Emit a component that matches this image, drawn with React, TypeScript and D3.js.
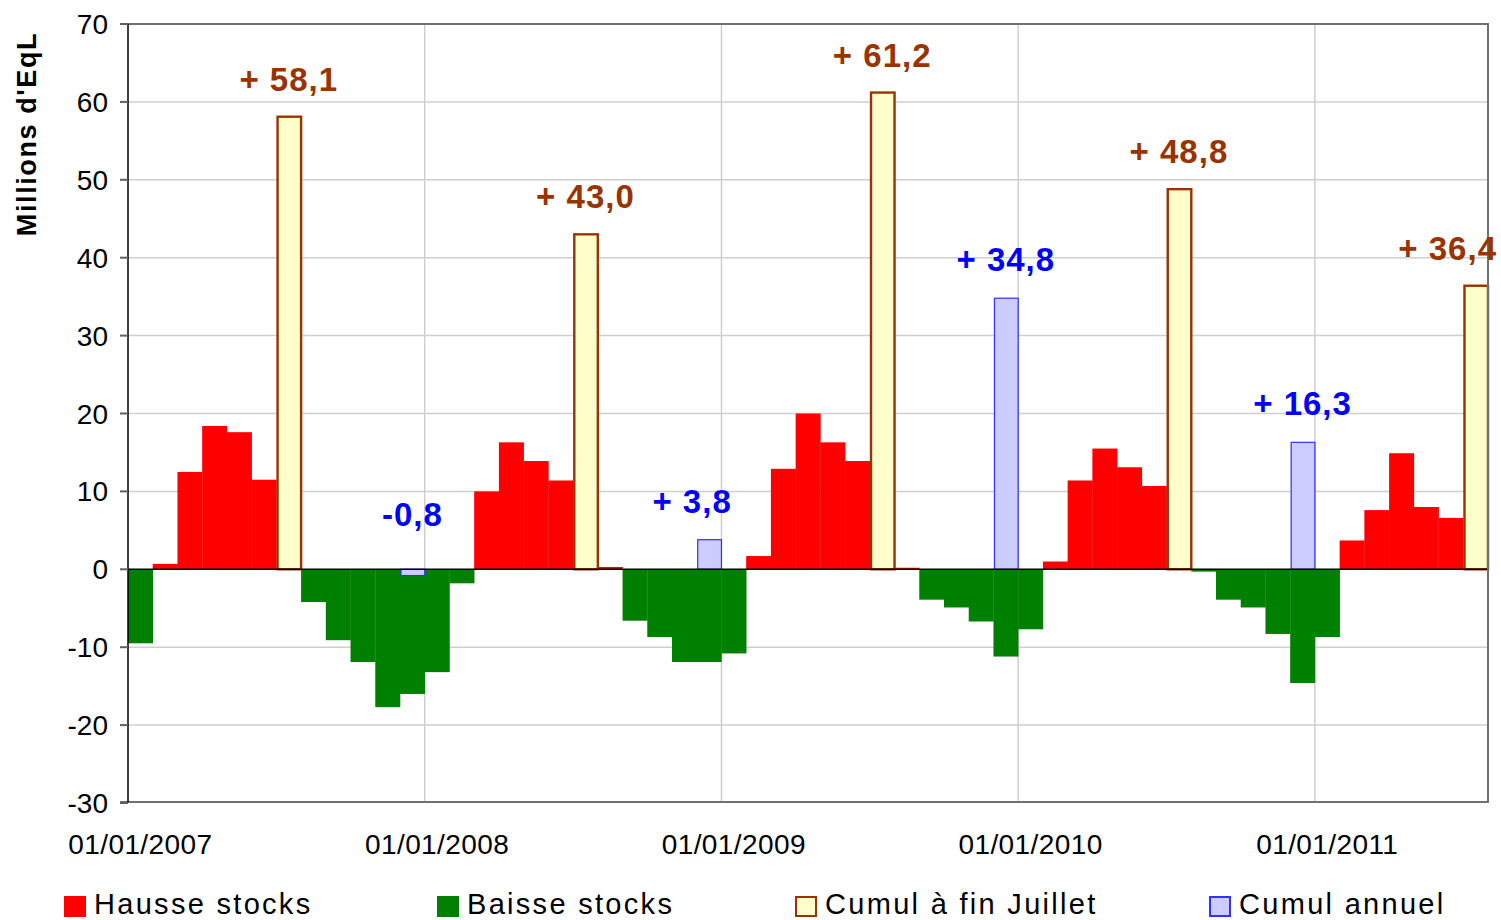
import React from "react";
import * as d3 from "d3";

// Monthly stock variations, Jan 2007 .. Jul 2011 (July hidden behind the cumulative bar)
const months: string[] = d3.range(55).map((i) => {
  const y = 2007 + Math.floor(i / 12);
  const m = (i % 12) + 1;
  return `01/${String(m).padStart(2, "0")}/${y}`;
});

const monthlyValues: (number | null)[] = [
  -9.5, 0.7, 12.5, 18.4, 17.6, 11.5, null, -4.2, -9.1, -11.9, -17.7, -16.0,
  -13.2, -1.8, 10.0, 16.3, 13.9, 11.4, null, 0.3, -6.6, -8.7, -11.9, -11.9,
  -10.8, 1.7, 12.9, 20.0, 16.3, 13.9, null, 0.2, -3.9, -4.9, -6.7, -11.2,
  -7.7, 1.0, 11.4, 15.5, 13.1, 10.7, null, -0.3, -3.9, -4.9, -8.3, -14.6,
  -8.7, 3.7, 7.6, 14.9, 8.0, 6.6, null,
];

const cumulJuilletMonths: string[] = ["01/07/2007", "01/07/2008", "01/07/2009", "01/07/2010", "01/07/2011"];
const cumulJuilletValues: number[] = [58.1, 43.0, 61.2, 48.8, 36.4];

const cumulAnnuelMonths: string[] = ["01/12/2007", "01/12/2008", "01/12/2009", "01/12/2010"];
const cumulAnnuelValues: number[] = [-0.8, 3.8, 34.8, 16.3];

const yTicks: number[] = [70, 60, 50, 40, 30, 20, 10, 0, -10, -20, -30];
const xTickLabels: string[] = ["01/01/2007", "01/01/2008", "01/01/2009", "01/01/2010", "01/01/2011"];

const legendItems = [
  { label: "Hausse stocks", fill: "#FF0000", stroke: "none" },
  { label: "Baisse stocks", fill: "#008000", stroke: "none" },
  { label: "Cumul à fin Juillet", fill: "#FFFFCC", stroke: "#993300" },
  { label: "Cumul annuel", fill: "#CCCCFF", stroke: "#3333FF" },
];

const W = 1501;
const H = 920;
const FONT = "'Liberation Sans', Arial, Helvetica, sans-serif";

function fmt(v: number): string {
  const s = Math.abs(v).toFixed(1).replace(".", ",");
  return v >= 0 ? `+ ${s}` : `-${s}`;
}

export default function App() {
  const left = 128;
  const right = 1488;
  const top = 24;
  const bottom = 802;

  const x = d3.scaleBand<string>().domain(months).range([left, right]).padding(0);
  const y = d3.scaleLinear().domain([-30, 70]).range([bottom + 1, top]);
  const bw = x.bandwidth();

  const legendX = [64, 437, 795, 1209];

  return (
    <svg
      width={W}
      height={H}
      style={{ position: "absolute", left: 0, top: 0, background: "#fff" }}
      fontFamily={FONT}
    >
      {/* horizontal gridlines */}
      {yTicks
        .filter((t) => t !== 70 && t !== -30 && t !== 0)
        .map((t) => (
          <line key={"g" + t} x1={left} x2={right} y1={y(t)} y2={y(t)} stroke="#cfcfcf" strokeWidth={1.5} />
        ))}
      {/* vertical gridlines at each year */}
      {xTickLabels.slice(1).map((lab) => (
        <line key={"v" + lab} x1={x(lab)!} x2={x(lab)!} y1={top} y2={bottom} stroke="#cfcfcf" strokeWidth={1.5} />
      ))}

      {/* monthly bars */}
      {months.map((m, i) => {
        const v = monthlyValues[i];
        if (v === null) return null;
        const y0 = y(Math.max(0, v));
        const y1 = y(Math.min(0, v));
        return (
          <rect
            key={"m" + m}
            x={x(m)!}
            y={y0}
            width={bw + 0.3}
            height={y1 - y0}
            fill={v >= 0 ? "#FF0000" : "#008000"}
          />
        );
      })}

      {/* cumul annuel bars */}
      {cumulAnnuelMonths.map((m, i) => {
        const v = cumulAnnuelValues[i];
        const y0 = y(Math.max(0, v));
        const y1 = y(Math.min(0, v));
        return (
          <rect
            key={"a" + m}
            x={x(m)! + 1}
            y={y0}
            width={bw - 1}
            height={y1 - y0}
            fill="#CCCCFF"
            stroke="#2f2fff"
            strokeWidth={1.2}
          />
        );
      })}

      {/* cumul juillet bars */}
      {cumulJuilletMonths.map((m, i) => {
        const v = cumulJuilletValues[i];
        const y0 = y(Math.max(0, v));
        const y1 = y(Math.min(0, v));
        return (
          <rect
            key={"j" + m}
            x={x(m)! + 1.2}
            y={y0}
            width={bw - 1.2}
            height={y1 - y0}
            fill="#FFFFCC"
            stroke="#993300"
            strokeWidth={2.4}
          />
        );
      })}

      {/* zero line */}
      <line x1={left} x2={right} y1={y(0)} y2={y(0)} stroke="#000" strokeWidth={1.5} />

      {/* plot border */}
      <line x1={120} x2={right + 1} y1={top} y2={top} stroke="#707070" strokeWidth={2} />
      <line x1={right} x2={right} y1={top} y2={bottom} stroke="#707070" strokeWidth={2} />
      <line x1={120} x2={right + 1} y1={bottom} y2={bottom} stroke="#707070" strokeWidth={2} />
      <line x1={left} x2={left} y1={top} y2={bottom} stroke="#000" strokeWidth={1.5} />

      {/* y ticks and labels */}
      {yTicks.map((t) => (
        <g key={"t" + t}>
          <line x1={120} x2={left} y1={y(t)} y2={y(t)} stroke="#606060" strokeWidth={2} />
          <text x={108} y={y(t)} dy="0.36em" textAnchor="end" fontSize={28} fill="#000">
            {t}
          </text>
        </g>
      ))}

      {/* x labels */}
      {xTickLabels.map((lab) => (
        <text
          key={"x" + lab}
          x={x(lab)! + bw / 2}
          y={854}
          textAnchor="middle"
          fontSize={28}
          letterSpacing={0.4}
          fill="#000"
        >
          {lab}
        </text>
      ))}

      {/* y axis title */}
      <text
        transform={`translate(36,134) rotate(-90)`}
        textAnchor="middle"
        fontSize={27}
        fontWeight="bold"
        letterSpacing={1.6}
        fill="#000"
      >
        Millions d'EqL
      </text>

      {/* value labels: cumul juillet */}
      {cumulJuilletMonths.map((m, i) => {
        const v = cumulJuilletValues[i];
        const cx = x(m)! + bw / 2;
        const last = i === cumulJuilletMonths.length - 1;
        return (
          <text
            key={"lj" + m}
            x={last ? W - 4 : cx}
            y={y(Math.max(0, v)) - 26}
            textAnchor={last ? "end" : "middle"}
            fontSize={33}
            fontWeight="bold"
            letterSpacing={1}
            fill="#993300"
          >
            {fmt(v)}
          </text>
        );
      })}

      {/* value labels: cumul annuel */}
      {cumulAnnuelMonths.map((m, i) => {
        const v = cumulAnnuelValues[i];
        const cx = x(m)! + bw / 2;
        const nudge = i === 1 ? -17 : 0;
        const yy = v < 0 ? y(0) - 43 : y(v) - 27;
        return (
          <text
            key={"la" + m}
            x={cx + nudge}
            y={yy}
            textAnchor="middle"
            fontSize={33}
            fontWeight="bold"
            letterSpacing={1}
            fill="#0000FF"
          >
            {fmt(v)}
          </text>
        );
      })}

      {/* legend */}
      {legendItems.map((it, i) => (
        <g key={"lg" + i}>
          <rect
            x={legendX[i] + (it.stroke !== "none" ? 1 : 0)}
            y={896 + (it.stroke !== "none" ? 1 : 0)}
            width={it.stroke !== "none" ? 20 : 22}
            height={it.stroke !== "none" ? 19 : 21}
            fill={it.fill}
            stroke={it.stroke}
            strokeWidth={it.stroke !== "none" ? 2 : 0}
          />
          <text x={legendX[i] + 30} y={914} fontSize={29} letterSpacing={2.3} fill="#000">
            {it.label}
          </text>
        </g>
      ))}
    </svg>
  );
}
